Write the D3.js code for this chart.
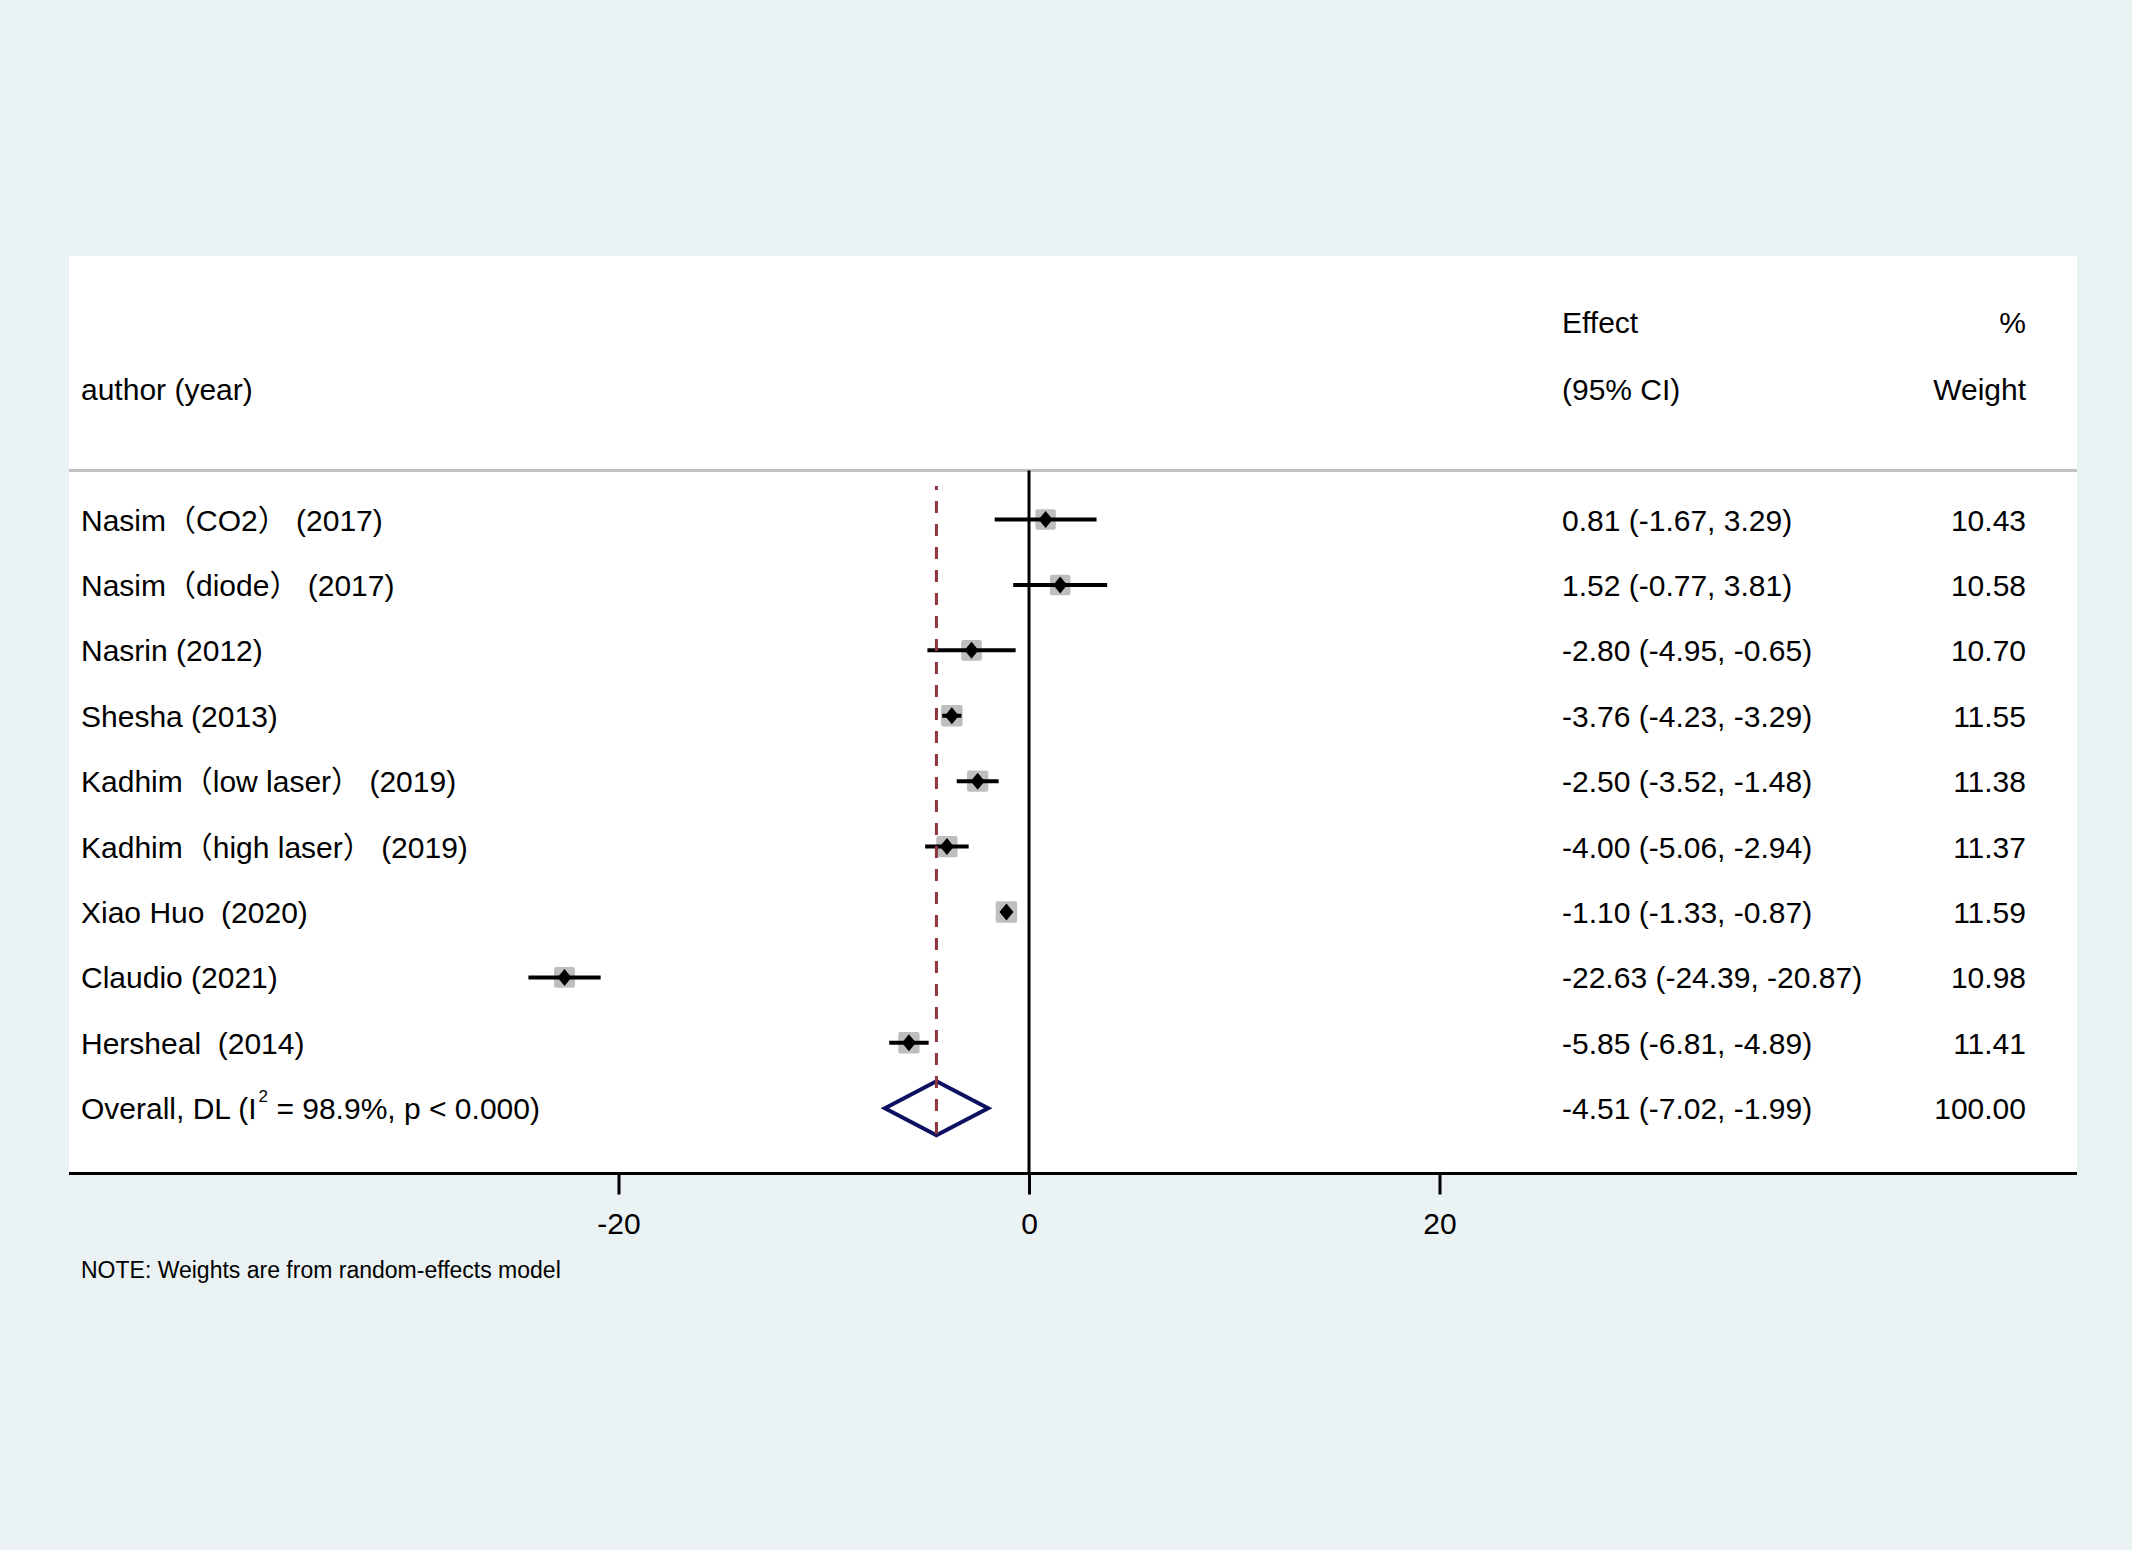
<!DOCTYPE html>
<html>
<head>
<meta charset="utf-8">
<script src="https://cdn.jsdelivr.net/npm/d3@7"></script>
<style>
  body { margin: 0; background: #EAF2F3; }
  text { white-space: pre; }
</style>
</head>
<body>
<script>
var CANVAS_WIDTH = 2132;
var CANVAS_HEIGHT = 1550;
var FONT = "'Liberation Sans', Arial, 'Noto Sans CJK SC', sans-serif";

// study rows
var studies = [
    "Nasim（CO2） (2017)",
    "Nasim（diode） (2017)",
    "Nasrin (2012)",
    "Shesha (2013)",
    "Kadhim（low laser） (2019)",
    "Kadhim（high laser） (2019)",
    "Xiao Huo  (2020)",
    "Claudio (2021)",
    "Hersheal  (2014)"
];
var effects = [0.81, 1.52, -2.80, -3.76, -2.50, -4.00, -1.10, -22.63, -5.85];
var lowerCI = [-1.67, -0.77, -4.95, -4.23, -3.52, -5.06, -1.33, -24.39, -6.81];
var upperCI = [3.29, 3.81, -0.65, -3.29, -1.48, -2.94, -0.87, -20.87, -4.89];
var weights = [10.43, 10.58, 10.70, 11.55, 11.38, 11.37, 11.59, 10.98, 11.41];

var overallEffect = -4.51;
var overallLower = -7.02;
var overallUpper = -1.99;
var overallWeight = 100.00;

var xTicks = [-20, 0, 20];

var canvas = d3.select("body")
    .append("svg")
    .attr("width", CANVAS_WIDTH)
    .attr("height", CANVAS_HEIGHT);

canvas.append("rect")
    .attr("width", CANVAS_WIDTH)
    .attr("height", CANVAS_HEIGHT)
    .attr("fill", "#EAF2F3");

// white plot panel
var PANEL_LEFT = 69, PANEL_RIGHT = 2077, PANEL_TOP = 256, AXIS_Y = 1173.5, HEADER_Y = 470.5;
canvas.append("rect")
    .attr("x", PANEL_LEFT)
    .attr("y", PANEL_TOP)
    .attr("width", PANEL_RIGHT - PANEL_LEFT)
    .attr("height", AXIS_Y - PANEL_TOP)
    .attr("fill", "white");

var x = d3.scaleLinear().domain([-20, 20]).range([618.5, 1439.5]);
var rowIdx = d3.range(studies.length + 1);
var y = d3.scalePoint().domain(rowIdx).range([519.5, 1108.2]);
var boxSize = d3.scaleSqrt().domain([0, 11.59]).range([0, 21.5]);
// plain hyphen for negatives, as in the original table
var fmt = v => d3.format(".2f")(v).replace("\u2212", "-");

function drawText(txt, xPos, yPos, size, anchor) {
    return canvas.append("text")
        .attr("x", xPos)
        .attr("y", yPos)
        .attr("text-anchor", anchor || "start")
        .attr("font-family", FONT)
        .attr("font-size", size + "px")
        .attr("fill", "black")
        .text(txt);
}

// header
var EFFECT_X = 1562, WEIGHT_X = 2026, LABEL_X = 81;
drawText("Effect", EFFECT_X, 333, 30);
drawText("(95% CI)", EFFECT_X, 400, 30);
drawText("author (year)", LABEL_X, 400, 30);
drawText("%", WEIGHT_X, 333, 30, "end");
drawText("Weight", WEIGHT_X, 400, 30, "end");

canvas.append("line")
    .attr("x1", PANEL_LEFT).attr("x2", PANEL_RIGHT)
    .attr("y1", HEADER_Y).attr("y2", HEADER_Y)
    .attr("stroke", "#C0C0C0")
    .attr("stroke-width", 3);

// line of no effect
canvas.append("line")
    .attr("x1", x(0)).attr("x2", x(0))
    .attr("y1", HEADER_Y).attr("y2", AXIS_Y)
    .attr("stroke", "black")
    .attr("stroke-width", 3);

var rows = d3.range(studies.length);

// weight boxes
canvas.selectAll(".wbox")
    .data(rows)
    .enter().append("rect")
    .attr("class", "wbox")
    .attr("x", i => x(effects[i]) - boxSize(weights[i]) / 2)
    .attr("y", i => y(i) - boxSize(weights[i]) / 2)
    .attr("width", i => boxSize(weights[i]))
    .attr("height", i => boxSize(weights[i]))
    .attr("rx", 2)
    .attr("fill", "#BEBEBE");

// confidence intervals
canvas.selectAll(".ci")
    .data(rows)
    .enter().append("line")
    .attr("class", "ci")
    .attr("x1", i => x(lowerCI[i]))
    .attr("x2", i => x(upperCI[i]))
    .attr("y1", i => y(i))
    .attr("y2", i => y(i))
    .attr("stroke", "black")
    .attr("stroke-width", 4);

// point estimates
canvas.selectAll(".pt")
    .data(rows)
    .enter().append("path")
    .attr("class", "pt")
    .attr("d", i => {
        var cx = x(effects[i]), cy = y(i);
        return "M" + (cx - 7) + "," + cy + " L" + cx + "," + (cy - 8.5) +
            " L" + (cx + 7) + "," + cy + " L" + cx + "," + (cy + 8.5) + " Z";
    })
    .attr("fill", "black");

// overall diamond
var oy = y(studies.length);
canvas.append("path")
    .attr("d", "M" + x(overallLower) + "," + oy +
        " L" + x(overallEffect) + "," + (oy - 27) +
        " L" + x(overallUpper) + "," + oy +
        " L" + x(overallEffect) + "," + (oy + 27) + " Z")
    .attr("fill", "none")
    .attr("stroke", "#0E1061")
    .attr("stroke-width", 4)
    .attr("stroke-linejoin", "miter");

// overall effect reference line
canvas.append("line")
    .attr("x1", x(overallEffect)).attr("x2", x(overallEffect))
    .attr("y1", 486).attr("y2", 1141)
    .attr("stroke", "#90353B")
    .attr("stroke-width", 3)
    .attr("stroke-dasharray", "12,11")
    .attr("stroke-dashoffset", 8);

// row text
rows.forEach(i => {
    drawText(studies[i], LABEL_X, y(i) + 11, 30);
    drawText(fmt(effects[i]) + " (" + fmt(lowerCI[i]) + ", " + fmt(upperCI[i]) + ")", EFFECT_X, y(i) + 11, 30);
    drawText(fmt(weights[i]), WEIGHT_X, y(i) + 11, 30, "end");
});

var ov = drawText("", LABEL_X, oy + 11, 30);
ov.append("tspan").text("Overall, DL (I");
ov.append("tspan").attr("font-size", "17px").attr("dy", -17).attr("dx", 2).text("2");
ov.append("tspan").attr("dy", 17).text(" = 98.9%, p < 0.000)");
drawText(fmt(overallEffect) + " (" + fmt(overallLower) + ", " + fmt(overallUpper) + ")", EFFECT_X, oy + 11, 30);
drawText(fmt(overallWeight), WEIGHT_X, oy + 11, 30, "end");

// x axis
canvas.append("line")
    .attr("x1", PANEL_LEFT).attr("x2", PANEL_RIGHT)
    .attr("y1", AXIS_Y).attr("y2", AXIS_Y)
    .attr("stroke", "black")
    .attr("stroke-width", 3);

var axis = canvas.append("g")
    .attr("transform", "translate(0," + AXIS_Y + ")")
    .call(d3.axisBottom(x).tickValues(xTicks).tickSize(21).tickPadding(20));
axis.select(".domain").remove();
axis.selectAll(".tick line").attr("stroke", "black").attr("stroke-width", 3);
axis.selectAll(".tick text")
    .attr("font-family", FONT)
    .attr("font-size", "30px")
    .attr("fill", "black")
    .attr("dy", null)
    .attr("y", 1234 - AXIS_Y)
    .text(d => fmt(d).replace(".00", ""));

drawText("NOTE: Weights are from random-effects model", 81, 1278, 23);
</script>
</body>
</html>
